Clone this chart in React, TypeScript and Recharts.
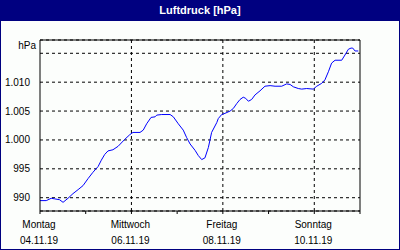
import { LineChart, Line, XAxis, YAxis, CartesianGrid, Label } from 'recharts';

// hours since Mon 04.11.19 00:00
const hours = [
  0, 3.3, 5.9, 7.7, 10.3, 12.1, 14.7, 17.3, 20, 22.6, 25.2, 27.8, 30.5, 32.2, 34, 35.7, 38.3, 41,
  44.5, 47.1, 48.8, 52.5, 54.2, 56, 58.3, 60.4, 61.3, 63.9, 68.3, 70, 72.6, 75.2, 77, 78.8, 81.4,
  83.1, 84.9, 86.6, 88.4, 90.1, 92.8, 93.6, 95.4, 97.1, 99.8, 101.5, 103.3, 105, 106.7, 108, 109.4,
  111.1, 112.9, 115.5, 118.1, 120.8, 123.4, 126.9, 129.5, 131.3, 133, 135.6, 137.4, 140, 143.5,
  145.3, 147.9, 149.6, 151.4, 153.1, 154.9, 158.4, 160.1, 161.9, 163.3, 164.2, 165.4, 167.1,
];
const pressure = [
  989.5, 989.5, 989.9, 989.8, 989.65, 989.2, 989.9, 990.7, 991.4, 992.1, 993.3, 994.4, 995.4,
  996.5, 997.5, 998.1, 998.3, 998.9, 1000.1, 1000.9, 1001.3, 1001.3, 1001.7, 1002.8, 1003.9,
  1004.0, 1004.3, 1004.4, 1004.4, 1004.0, 1002.8, 1001.7, 1000.4, 999.3, 998.2, 997.3, 996.6,
  996.9, 998.7, 1001.3, 1003.0, 1003.7, 1004.4, 1004.6, 1005.0, 1005.45, 1006.3, 1007.0, 1007.4,
  1007.2, 1006.7, 1007.0, 1007.8, 1008.5, 1009.3, 1009.4, 1009.3, 1009.3, 1009.7, 1009.6, 1009.2,
  1008.9, 1008.8, 1008.9, 1008.8, 1009.3, 1009.8, 1010.4, 1011.8, 1013.3, 1013.8, 1013.8, 1014.7,
  1015.7, 1015.9, 1015.9, 1015.4, 1015.4,
];

const dayTicks = [0, 24, 48, 72, 96, 120, 144, 168];
const dayNames = ['Montag', 'Dienstag', 'Mittwoch', 'Donnerstag', 'Freitag', 'Samstag', 'Sonntag', 'Montag'];
const dayDates = ['04.11.19', '05.11.19', '06.11.19', '07.11.19', '08.11.19', '09.11.19', '10.11.19', '11.11.19'];
const gridDays = [48, 96, 144];
const yTicks = [990, 995, 1000, 1005, 1010, 1015];

const data = hours.map((h, i) => ({ h, p: pressure[i] }));

const FONT = '"Liberation Sans", Arial, sans-serif';

function fmtHpa(v: number) {
  if (v === 1015) return '';
  const s = String(v);
  return s.length > 3 ? s.slice(0, s.length - 3) + '.' + s.slice(-3) : s;
}

function DayTick(props: any) {
  const { x, y, payload } = props;
  const i = dayTicks.indexOf(payload.value);
  if (i % 2 !== 0 || i === 7) return null;
  return (
    <g>
      <text x={x - 1} y={y} dy={12} textAnchor="middle" fontSize={10} fontFamily={FONT} fill="#000">
        {dayNames[i]}
      </text>
      <text x={x - 1} y={y} dy={27.5} textAnchor="middle" fontSize={10} fontFamily={FONT} fill="#000">
        {dayDates[i]}
      </text>
    </g>
  );
}

function UnitLabel(props: any) {
  const vb = props.viewBox || { x: 0, y: 40, width: 40 };
  return (
    <text x={vb.x + vb.width - 4} y={vb.y + 8.5} textAnchor="end" fontSize={10} fontFamily={FONT} fill="#000">
      hPa
    </text>
  );
}

export default function App() {
  return (
    <div
      style={{
        position: 'absolute',
        left: 0,
        top: 0,
        width: 398,
        height: 248,
        border: '1px solid #000080',
        background: '#fcfefc',
        fontFamily: FONT,
      }}
    >
      <div
        style={{
          position: 'absolute',
          left: 0,
          top: 0,
          width: 398,
          height: 20,
          background: '#000080',
          color: '#fff',
          fontWeight: 'bold',
          fontSize: 11,
          lineHeight: '18px',
          textAlign: 'center',
        }}
      >
        Luftdruck [hPa]
      </div>
      <div style={{ position: 'absolute', left: -1, top: -1 }}>
        <LineChart width={400} height={250} data={data} margin={{ top: 0, right: 0, bottom: 0, left: 0 }}>
          <CartesianGrid
            stroke="#000"
            strokeDasharray="3 3"
            verticalValues={gridDays}
            fill="none"
          />
          <XAxis
            dataKey="h"
            type="number"
            domain={[0, 168]}
            ticks={dayTicks}
            interval={0}
            height={39}
            tickSize={3}
            tickMargin={2}
            axisLine={{ stroke: '#000' }}
            tickLine={{ stroke: '#000' }}
            tick={<DayTick />}
          />
          <XAxis xAxisId="top" orientation="top" type="number" domain={[0, 168]} height={40} tick={false} tickLine={false} axisLine={{ stroke: '#000' }} />
          <YAxis
            type="number"
            domain={[987.7, 1017.3]}
            ticks={yTicks}
            interval={0}
            width={40}
            tickLine={false}
            tickMargin={4}
            axisLine={{ stroke: '#000' }}
            tickFormatter={fmtHpa}
            tick={{ fill: '#000', fontSize: 10, fontFamily: FONT }}
          >
            <Label content={<UnitLabel />} />
          </YAxis>
          <YAxis yAxisId="right" orientation="right" domain={[987.7, 1017.3]} width={40} tick={false} tickLine={false} axisLine={{ stroke: '#000' }} />
          <Line
            type="linear"
            dataKey="p"
            stroke="#0000ff"
            strokeWidth={1}
            dot={false}
            isAnimationActive={false}
          />
        </LineChart>
      </div>
    </div>
  );
}
